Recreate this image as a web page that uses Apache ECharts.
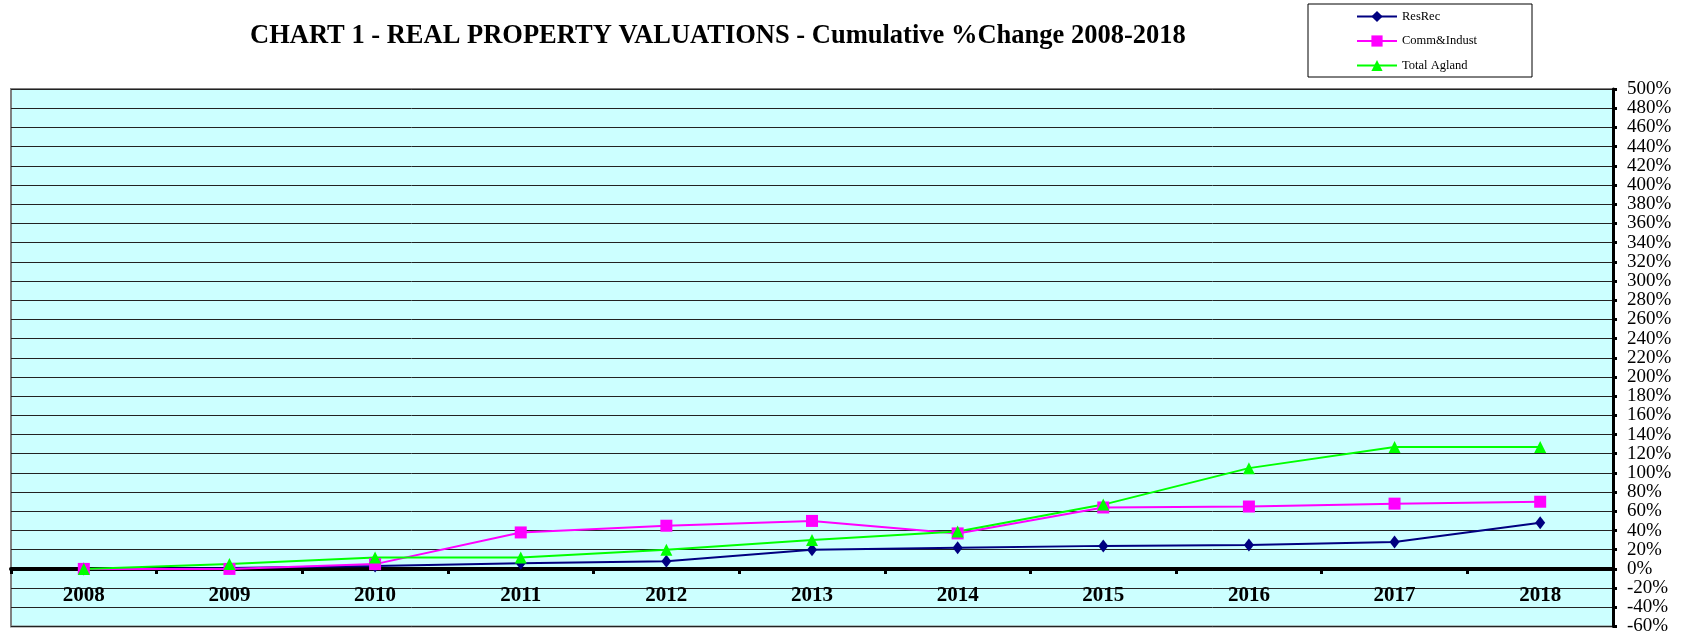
<!DOCTYPE html>
<html>
<head>
<meta charset="utf-8">
<script src="https://cdn.jsdelivr.net/npm/echarts@6/dist/echarts.min.js"></script>
<style>
  html, body { margin: 0; padding: 0; background: #fff; }
  #main { width: 1690px; height: 636px; }
</style>
</head>
<body>
<div id="main"></div>
<script>
'use strict'

// categories and cumulative % change per series
const years = ['2008', '2009', '2010', '2011', '2012', '2013', '2014', '2015', '2016', '2017', '2018'];
const resRec = [0, 1, 3, 6, 8, 20, 22, 24, 25, 28, 48];
const commIndust = [0, 0, 5, 38, 45, 50, 37, 64, 65, 68, 70];
const totalAgland = [0, 5, 12, 12, 20, 30, 39, 67, 105, 127, 127];

const serif = 'Liberation Serif, Times New Roman, serif';

var myChart = echarts.init(document.getElementById('main'));

var option = {
    animation: false,
    backgroundColor: '#fff',
    title: {
        text: 'CHART 1 - REAL PROPERTY VALUATIONS - Cumulative %Change 2008-2018',
        left: 250,
        top: 23,
        padding: 0,
        textStyle: {
            fontFamily: serif,
            fontWeight: 'bold',
            fontSize: 26.5,
            color: '#000'
        }
    },
    legend: {
        orient: 'vertical',
        left: 1308,
        top: 4,
        padding: [6, 55, 5, 48],
        itemWidth: 40,
        itemHeight: 14,
        itemGap: 11.5,
        borderColor: '#000',
        borderWidth: 1,
        textStyle: { fontFamily: serif, fontSize: 12.5, color: '#000' },
        data: ['ResRec', 'Comm&Indust', 'Total Agland']
    },
    grid: {
        left: 11,
        right: 77,
        top: 89,
        bottom: 9.5,
        outerBoundsMode: 'none',
        containLabel: false,
        show: true,
        backgroundColor: '#CCFFFF',
        borderColor: '#808080',
        borderWidth: 2
    },
    xAxis: {
        type: 'category',
        data: years,
        boundaryGap: true,
        axisLine: { onZero: true, lineStyle: { color: '#000', width: 4 } },
        axisTick: { show: true, inside: false, length: 5, lineStyle: { color: '#000', width: 3 } },
        axisLabel: {
            margin: -41,
            fontFamily: serif,
            fontWeight: 'bold',
            fontSize: 21,
            color: '#000'
        },
        splitLine: { show: false }
    },
    yAxis: {
        type: 'value',
        position: 'right',
        min: -60,
        max: 500,
        interval: 20,
        axisLine: { show: true, lineStyle: { color: '#000', width: 3 } },
        axisTick: { show: true, length: 4, lineStyle: { color: '#000', width: 3 } },
        axisLabel: {
            margin: 14,
            fontFamily: serif,
            fontSize: 19,
            color: '#000',
            formatter: '{value}%'
        },
        splitLine: { show: true, lineStyle: { color: '#222', width: 1 } }
    },
    series: [
        {
            name: 'ResRec',
            type: 'line',
            data: resRec,
            symbol: 'diamond',
            symbolSize: [10, 13],
            lineStyle: { color: '#000080', width: 2 },
            itemStyle: { color: '#000080' }
        },
        {
            name: 'Comm&Indust',
            type: 'line',
            data: commIndust,
            symbol: 'rect',
            symbolSize: 12,
            lineStyle: { color: '#FF00FF', width: 2 },
            itemStyle: { color: '#FF00FF' }
        },
        {
            name: 'Total Agland',
            type: 'line',
            data: totalAgland,
            symbol: 'triangle',
            symbolSize: 12,
            lineStyle: { color: '#00FF00', width: 2 },
            itemStyle: { color: '#00FF00' }
        }
    ]
};

myChart.setOption(option);
</script>
</body>
</html>
